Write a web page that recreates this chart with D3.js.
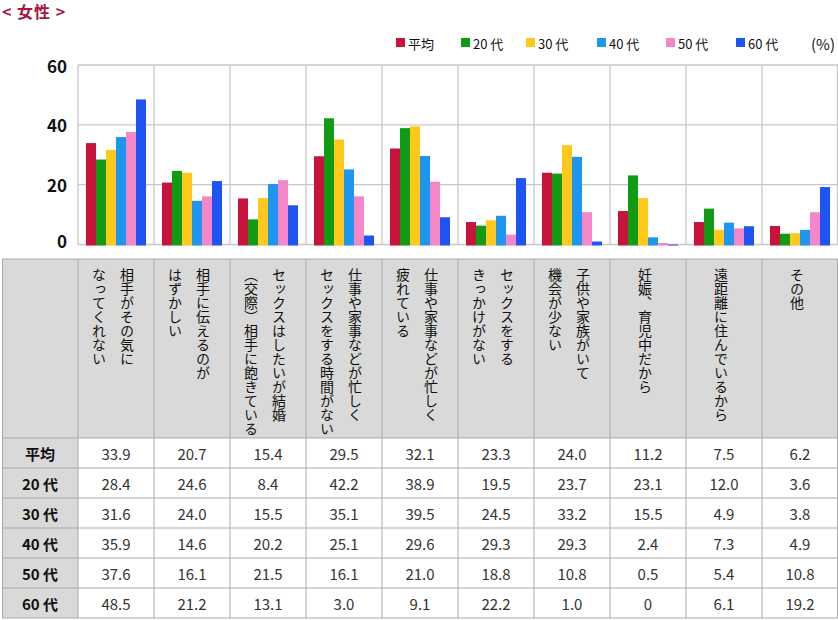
<!DOCTYPE html>
<html><head><meta charset="utf-8">
<script src="https://cdn.jsdelivr.net/npm/d3@7"></script>
<style>
body{margin:0;background:#fff}
svg{display:block}
text{font-family:"Noto Sans CJK JP","Noto Sans",sans-serif}
</style>
</head><body>
<svg id="c" width="838" height="620"></svg>
<script>
// ---- data ----
const categories = ["相手がその気になってくれない","相手に伝えるのがはずかしい","セックスはしたいが結婚（交際）相手に飽きている","仕事や家事などが忙しくセックスをする時間がない","仕事や家事などが忙しく疲れている","セックスをするきっかけがない","子供や家族がいて機会が少ない","妊娠、育児中だから","遠距離に住んでいるから","その他"];
const headerLines = [
  ["相手がその気に","なってくれない"],
  ["相手に伝えるのが","はずかしい"],
  ["セックスはしたいが結婚","（交際）相手に飽きている"],
  ["仕事や家事などが忙しく","セックスをする時間がない"],
  ["仕事や家事などが忙しく","疲れている"],
  ["セックスをする","きっかけがない"],
  ["子供や家族がいて","機会が少ない"],
  ["妊娠、育児中だから"],
  ["遠距離に住んでいるから"],
  ["その他"]
];
const seriesNames = ["平均","20 代","30 代","40 代","50 代","60 代"];
const seriesColors = ["#c8143c","#119a14","#ffc81a","#1e96f0","#f587c8","#1e55f2"];
const yTicks = [0,20,40,60];

// table values (as printed)
const tableAvg = [33.9,20.7,15.4,29.5,32.1,23.3,24.0,11.2,7.5,6.2];
const table20  = [28.4,24.6,8.4,42.2,38.9,19.5,23.7,23.1,12.0,3.6];
const table30  = [31.6,24.0,15.5,35.1,39.5,24.5,33.2,15.5,4.9,3.8];
const table40  = [35.9,14.6,20.2,25.1,29.6,29.3,29.3,2.4,7.3,4.9];
const table50  = [37.6,16.1,21.5,16.1,21.0,18.8,10.8,0.5,5.4,10.8];
const table60  = [48.5,21.2,13.1,3.0,9.1,22.2,1.0,0,6.1,19.2];

// bar heights as drawn in the chart
const barAvg = [33.9,20.7,15.4,29.5,32.1,7.5,24.0,11.2,7.5,6.2];
const bar20  = [28.4,24.6,8.4,42.2,38.9,6.3,23.7,23.1,12.0,3.6];
const bar30  = [31.6,24.0,15.5,35.1,39.5,8.1,33.2,15.5,4.9,3.8];
const bar40  = [35.9,14.6,20.2,25.1,29.6,9.6,29.3,2.4,7.3,4.9];
const bar50  = [37.6,16.1,21.5,16.1,21.0,3.3,10.8,0.5,5.4,10.8];
const bar60  = [48.5,21.2,13.1,3.0,9.1,22.2,1.0,0,6.1,19.2];

const tableRows = [tableAvg,table20,table30,table40,table50,table60];
const barRows = [barAvg,bar20,bar30,bar40,bar50,bar60];

// ---- drawing ----
const svg = d3.select("#c");
const pLeft = 78, pRight = 838, pTop = 65, pBottom = 244.5;

const x0 = d3.scaleBand().domain(categories).range([pLeft, pRight]);
const x1 = d3.scaleBand().domain(seriesNames).range([0, x0.bandwidth()]).paddingOuter(0.8);
const y = d3.scaleLinear().domain([0, 60]).range([pBottom, pTop]);

// title
svg.append("text").attr("x", 2).attr("y", 18)
  .attr("font-size", 16).attr("font-weight", "bold").attr("fill", "#a3193d")
  .attr("letter-spacing", 1)
  .text("< 女性 >");

// gridlines
svg.append("g").selectAll("line").data(yTicks).join("line")
  .attr("x1", pLeft).attr("x2", pRight)
  .attr("y1", d => y(d)).attr("y2", d => y(d))
  .attr("stroke", "#c8c8c8").attr("stroke-width", 1.3);
const vGrid = categories.map(c => x0(c)).concat([pRight - 0.5]);
svg.append("g").selectAll("line").data(vGrid).join("line")
  .attr("x1", d => d).attr("x2", d => d)
  .attr("y1", pTop).attr("y2", pBottom)
  .attr("stroke", "#c8c8c8").attr("stroke-width", 1.3);

// y axis labels
svg.append("g").selectAll("text").data(yTicks).join("text")
  .attr("x", 67).attr("y", d => y(d) + (d === 0 ? -4 : 0))
  .attr("text-anchor", "end").attr("dominant-baseline", "central")
  .attr("font-size", 17).attr("font-weight", "bold").attr("fill", "#111")
  .text(d => d);

// bars
const groups = svg.append("g").selectAll("g").data(categories).join("g")
  .attr("transform", d => `translate(${x0(d)},0)`);
groups.selectAll("rect").data((c, ci) => seriesNames.map((s, si) => ({s, si, v: barRows[si][ci]})))
  .join("rect")
  .attr("x", d => x1(d.s)).attr("width", x1.bandwidth())
  .attr("y", d => y(d.v)).attr("height", d => pBottom + 1 - y(d.v))
  .attr("fill", d => seriesColors[d.si]);

// legend
const legendX = [396, 461, 526, 597, 666, 736];
const lg = svg.append("g").selectAll("g").data(seriesNames).join("g")
  .attr("transform", (d,i) => `translate(${legendX[i]},38)`);
lg.append("rect").attr("width", 9).attr("height", 9).attr("fill", (d,i) => seriesColors[i]);
lg.append("text").attr("x", 12).attr("y", 5).attr("dominant-baseline", "central")
  .attr("font-size", 13).attr("fill", "#111").text(d => d);
svg.append("text").attr("x", 835).attr("y", 43).attr("text-anchor", "end")
  .attr("dominant-baseline", "central").attr("font-size", 15).attr("fill", "#111").text("(%)");

// table
const tTop = 259, tHead = 438, rowH = 30, tLeft = 2;
const border = "#aaaaaa", gray = "#d9d9d9";
const tbl = svg.append("g");
tbl.append("rect").attr("x", tLeft).attr("y", tTop).attr("width", pRight - tLeft).attr("height", tHead - tTop).attr("fill", gray);
tbl.append("rect").attr("x", tLeft).attr("y", tHead).attr("width", pLeft - tLeft).attr("height", rowH * 6).attr("fill", gray);
const hLines = [tTop, tHead].concat(d3.range(1, 7).map(i => tHead + i * rowH));
tbl.append("g").selectAll("line").data(hLines).join("line")
  .attr("x1", tLeft).attr("x2", pRight).attr("y1", d => d).attr("y2", d => d)
  .attr("stroke", border).attr("stroke-width", 1);
const vLines = [tLeft + 0.5].concat(categories.map(c => x0(c))).concat([pRight - 0.5]);
tbl.append("g").selectAll("line").data(vLines).join("line")
  .attr("x1", d => d).attr("x2", d => d).attr("y1", tTop).attr("y2", tHead + rowH * 6)
  .attr("stroke", border).attr("stroke-width", 1);

// header vertical text
const lineGap = 28;
categories.forEach((c, ci) => {
  const lines = headerLines[ci];
  const cx = x0(c) + x0.bandwidth() / 2 - 3;
  lines.forEach((t, j) => {
    const lx = cx + ((lines.length - 1) / 2 - j) * lineGap;
    tbl.append("text").attr("x", lx).attr("y", 268)
      .style("writing-mode", "vertical-rl")
      .attr("font-size", 14).attr("fill", "#111").text(t);
  });
});

// row labels and values
seriesNames.forEach((s, si) => {
  const cy = tHead + si * rowH + rowH / 2;
  tbl.append("text").attr("x", (tLeft + pLeft) / 2).attr("y", cy)
    .attr("text-anchor", "middle").attr("dominant-baseline", "central")
    .attr("font-size", 15).attr("font-weight", "bold").attr("fill", "#111").text(s);
  categories.forEach((c, ci) => {
    const v = tableRows[si][ci];
    tbl.append("text").attr("x", x0(c) + x0.bandwidth() / 2).attr("y", cy)
      .attr("text-anchor", "middle").attr("dominant-baseline", "central")
      .attr("font-size", 15).attr("fill", "#333").text(v === 0 ? "0" : v.toFixed(1));
  });
});
</script>
</body></html>
